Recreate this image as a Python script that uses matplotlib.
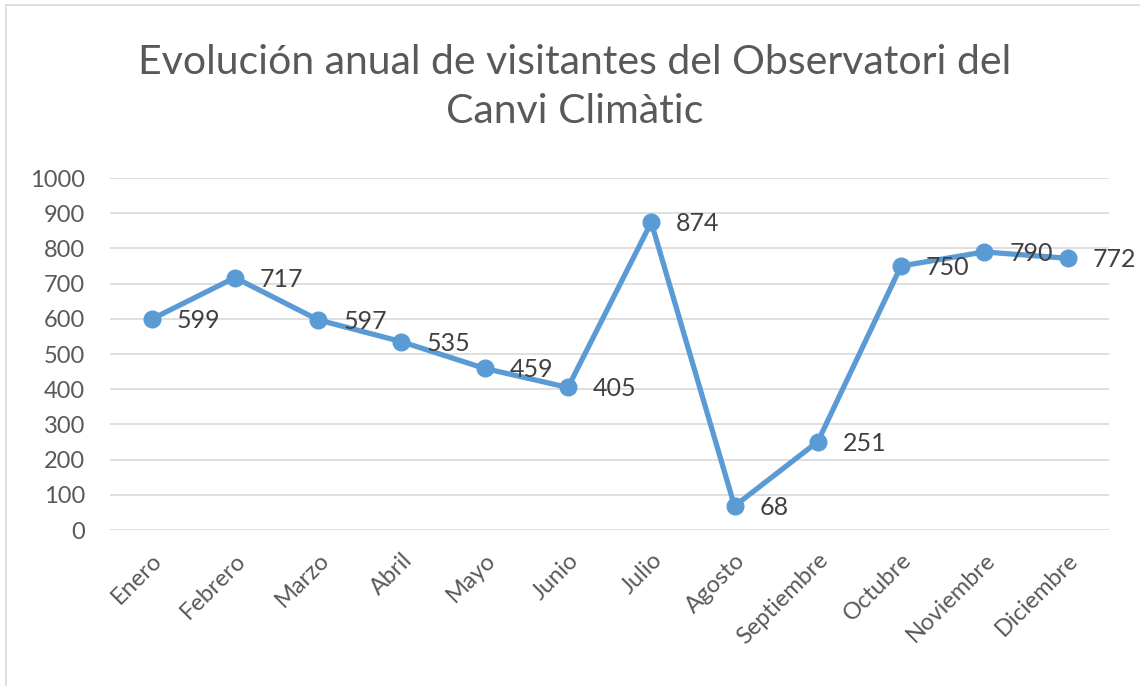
import matplotlib
matplotlib.use("Agg")
import matplotlib.pyplot as plt
from matplotlib.lines import Line2D

plt.rcParams['font.family'] = ['Lato', 'DejaVu Sans']

meses = ['Enero', 'Febrero', 'Marzo', 'Abril', 'Mayo', 'Junio', 'Julio',
         'Agosto', 'Septiembre', 'Octubre', 'Noviembre', 'Diciembre']
visitantes = [599, 717, 597, 535, 459, 405, 874, 68, 251, 750, 790, 772]
yticks = [0, 100, 200, 300, 400, 500, 600, 700, 800, 900, 1000]

fig = plt.figure(figsize=(11.4, 6.86), dpi=100)
ax = fig.add_axes([0.0965, 0.2274, 0.8765, 0.5131])

x = list(range(len(meses)))
ax.plot(x, visitantes, color='#5B9BD5', linewidth=3.8, marker='o',
        markersize=12, zorder=3)

for xi, v in zip(x, visitantes):
    ax.annotate(str(v), (xi, v), xytext=(18, -1), textcoords='offset points',
                ha='left', va='center', fontsize=18, color='#404040', zorder=4)

ax.set_xlim(-0.5, len(meses) - 0.5)
ax.set_ylim(0, 1000)
ax.set_yticks(yticks)
ax.set_yticklabels([str(t) for t in yticks], fontsize=17, color='#595959')
ax.set_xticks(x)
ax.set_xticklabels(meses, rotation=45, ha='right', rotation_mode='anchor',
                   fontsize=17, color='#595959')
ax.tick_params(axis='both', length=0)
ax.tick_params(axis='x', pad=14)
ax.tick_params(axis='y', pad=18)
ax.grid(axis='y', color='#D9D9D9', linewidth=1.2)
ax.set_axisbelow(True)
for s in ax.spines.values():
    s.set_visible(False)

fig.text(0.504, 0.873, 'Evolución anual de visitantes del Observatori del\nCanvi Climàtic',
         ha='center', va='center', fontsize=29.5, color='#595959', linespacing=1.4)

# chart area border (left and top edges visible)
fig.add_artist(Line2D([0.005, 0.005], [0.0, 0.993], transform=fig.transFigure,
                      color='#D9D9D9', linewidth=1.2))
fig.add_artist(Line2D([0.005, 1.0], [0.993, 0.993], transform=fig.transFigure,
                      color='#D9D9D9', linewidth=1.2))

fig.savefig('out.png', dpi=100)
